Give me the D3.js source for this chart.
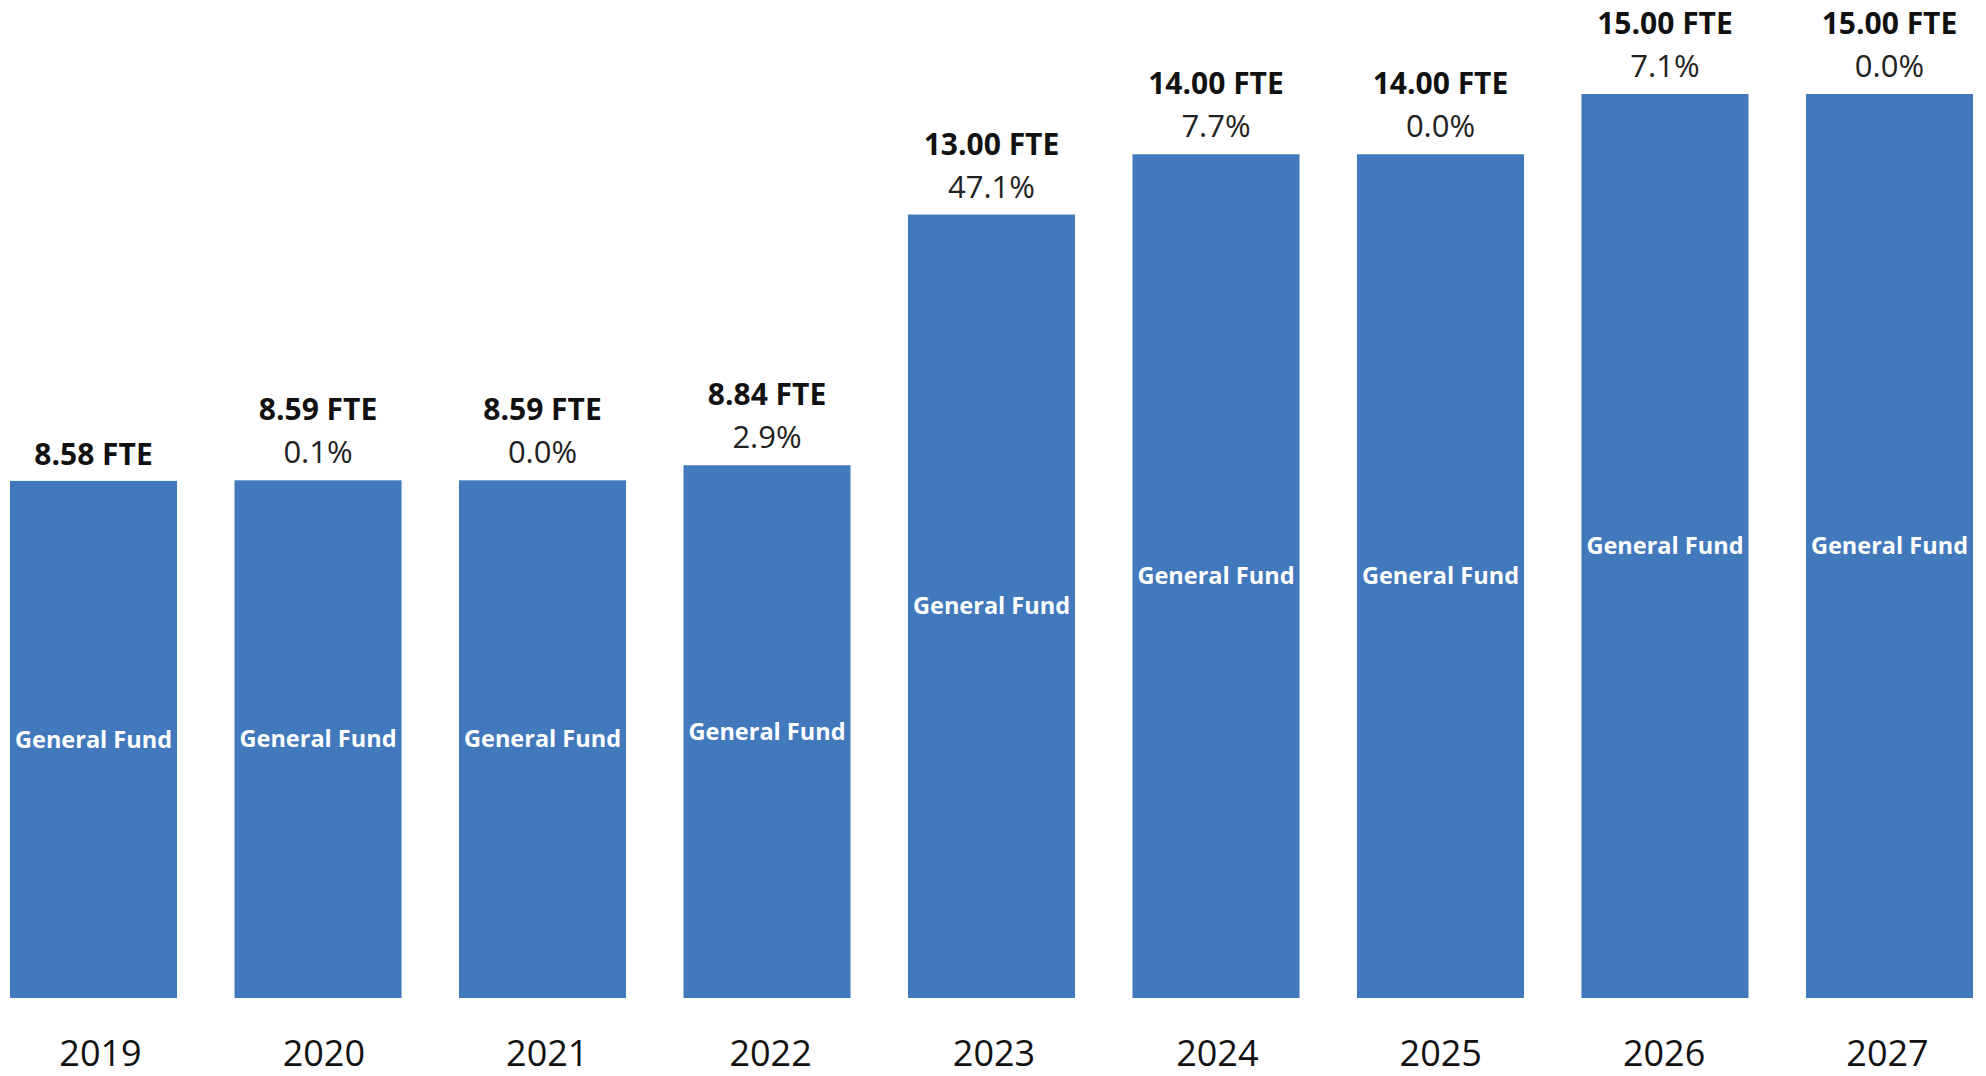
<!DOCTYPE html>
<html>
<head>
<meta charset="utf-8">
<script src="https://cdn.jsdelivr.net/npm/d3@7"></script>
<style>
  html, body { margin: 0; padding: 0; background: #ffffff; }
  svg { display: block; font-family: "Open Sans", "Noto Sans", sans-serif; }
</style>
</head>
<body>
<div id="chart"></div>
<script>
// données
const years = ["2019", "2020", "2021", "2022", "2023", "2024", "2025", "2026", "2027"];
const fte = [8.58, 8.59, 8.59, 8.84, 13.00, 14.00, 14.00, 15.00, 15.00];
const change = [null, "0.1%", "0.0%", "2.9%", "47.1%", "7.7%", "0.0%", "7.1%", "0.0%"];
const fundLabel = "General Fund";

const tidyData = years.map((y, i) => ({ year: y, fte: fte[i], pct: change[i] }));

const width = 1986;
const height = 1076;

const svg = d3.select("#chart")
  .append("svg")
  .attr("width", width)
  .attr("height", height)
  .attr("viewBox", [0, 0, width, height]);

// échelles
const scaleX = d3.scaleBand()
  .domain(years)
  .range([10, 1973])
  .paddingInner(0.256)
  .paddingOuter(0);

const scaleY = d3.scaleLinear()
  .domain([0, 15])
  .range([998, 94]);

// les années sont légèrement décalées par rapport aux barres
const scaleLabel = d3.scalePoint()
  .domain(years)
  .range([100, 1887]);

// barres
svg.append("g")
  .selectAll("rect")
  .data(tidyData)
  .join("rect")
  .attr("x", d => scaleX(d.year))
  .attr("y", d => scaleY(d.fte))
  .attr("width", scaleX.bandwidth())
  .attr("height", d => scaleY(0) - scaleY(d.fte))
  .attr("fill", "#4279BD");

// texte dans les barres
svg.append("g")
  .selectAll("text")
  .data(tidyData)
  .join("text")
  .attr("x", d => scaleX(d.year) + scaleX.bandwidth() / 2)
  .attr("y", d => (scaleY(d.fte) + scaleY(0)) / 2)
  .attr("dy", "0.35em")
  .attr("text-anchor", "middle")
  .attr("fill", "#ffffff")
  .attr("font-weight", "bold")
  .attr("font-size", "23.5px")
  .text(fundLabel);

// valeurs FTE
svg.append("g")
  .selectAll("text")
  .data(tidyData)
  .join("text")
  .attr("x", d => scaleX(d.year) + scaleX.bandwidth() / 2)
  .attr("y", d => scaleY(d.fte) - (d.pct ? 60 : 16))
  .attr("text-anchor", "middle")
  .attr("fill", "#111111")
  .attr("font-weight", "bold")
  .attr("font-size", "30px")
  .text(d => `${d.fte.toFixed(2)} FTE`);

// variation en %
svg.append("g")
  .selectAll("text")
  .data(tidyData.filter(d => d.pct))
  .join("text")
  .attr("x", d => scaleX(d.year) + scaleX.bandwidth() / 2)
  .attr("y", d => scaleY(d.fte) - 17)
  .attr("text-anchor", "middle")
  .attr("fill", "#222222")
  .attr("font-size", "31px")
  .text(d => d.pct);

// axe des X (années)
svg.append("g")
  .attr("transform", "translate(0, 1066)")
  .call(d3.axisBottom(scaleLabel).tickSize(0).tickPadding(0))
  .call(g => g.select(".domain").remove())
  .selectAll("text")
  .attr("dy", 0)
  .attr("y", 0)
  .attr("fill", "#111111")
  .attr("font-size", "36px")
  .attr("font-family", "'Open Sans', 'Noto Sans', sans-serif");
</script>
</body>
</html>
